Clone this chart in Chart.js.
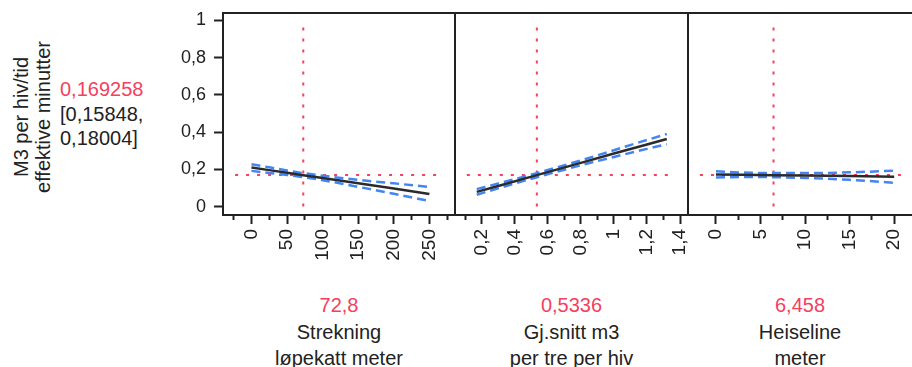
<!DOCTYPE html>
<html>
<head>
<meta charset="utf-8">
<script src="https://cdn.jsdelivr.net/npm/chart.js@4.4.1/dist/chart.umd.min.js"></script>
<style>
html, body { margin: 0; padding: 0; width: 912px; height: 367px; overflow: hidden; background: #fff; }
body { position: relative; font-family: "Liberation Sans", Arial, sans-serif; color: #222; }
canvas { position: absolute; top: 0; }
.t { position: absolute; font-size: 20px; white-space: nowrap; }
.red { color: #f5405e; }
</style>
</head>
<body>
<canvas id="p1" width="305" height="290" style="left:150px"></canvas>
<canvas id="p2" width="233" height="290" style="left:455px"></canvas>
<canvas id="p3" width="224" height="290" style="left:688px"></canvas>

<div class="t" id="ytitle" style="left:32px;top:117px;line-height:22px;text-align:center;transform:translate(-50%,-50%) rotate(-90deg)"></div>
<div class="t" id="yvalue" style="left:60px;top:77px;line-height:24.5px"></div>
<div class="t" id="xl0" style="top:292px;line-height:26.5px;text-align:center;transform:translateX(-50%)"></div>
<div class="t" id="xl1" style="top:292px;line-height:26.5px;text-align:center;transform:translateX(-50%)"></div>
<div class="t" id="xl2" style="top:292px;line-height:26.5px;text-align:center;transform:translateX(-50%)"></div>

<script>
// response
const respName = ['M3 per hiv/tid', 'effektive minutter'];
const respValue = '0,169258';
const respCI = ['[0,15848,', '0,18004]'];
const currentY = 0.169258;
const yMajor = [0, 0.2, 0.4, 0.6, 0.8, 1];

// factors
const factorNames = [['Strekning', 'løpekatt meter'], ['Gj.snitt m3', 'per tre per hiv'], ['Heiseline', 'meter']];
const currentX = [72.8, 0.5336, 6.458];
const currentXLabels = ['72,8', '0,5336', '6,458'];

// Strekning løpekatt meter
const strekX = [0, 25, 50, 72.8, 100, 150, 200, 250];
const strekFit = [0.210, 0.196, 0.182, 0.169, 0.154, 0.125, 0.097, 0.068];
const strekUpper = [0.228, 0.211, 0.194, 0.180, 0.166, 0.144, 0.125, 0.106];
const strekLower = [0.192, 0.181, 0.170, 0.158, 0.142, 0.106, 0.069, 0.030];
const strekMajor = [0, 50, 100, 150, 200, 250];

// Gj.snitt m3 per tre per hiv
const snittX = [0.17, 0.3, 0.5336, 0.8, 1.0, 1.2, 1.32];
const snittFit = [0.079, 0.111, 0.169, 0.235, 0.285, 0.334, 0.363];
const snittUpper = [0.094, 0.124, 0.180, 0.248, 0.303, 0.358, 0.390];
const snittLower = [0.064, 0.098, 0.158, 0.222, 0.267, 0.310, 0.335];
const snittMajor = [0.2, 0.4, 0.6, 0.8, 1, 1.2, 1.4];

// Heiseline meter
const heisX = [0, 3, 6.458, 10, 15, 20];
const heisFit = [0.173, 0.171, 0.169, 0.167, 0.164, 0.160];
const heisUpper = [0.190, 0.183, 0.180, 0.180, 0.184, 0.193];
const heisLower = [0.156, 0.159, 0.158, 0.154, 0.144, 0.128];
const heisMajor = [0, 5, 10, 15, 20];

// extent of the red dotted reference lines
const refSpanX = [[-23, 264], [0.11, 1.355], [-1.8, 21.2]];
const refTopY = 0.975;

const panels = [
  { id: 'p1', x: strekX, fit: strekFit, up: strekUpper, lo: strekLower, major: strekMajor,
    min: -40, max: 286, step: 25, firstTick: -25, yAxis: true, right: true },
  { id: 'p2', x: snittX, fit: snittFit, up: snittUpper, lo: snittLower, major: snittMajor,
    min: 0.0384, max: 1.4484, step: 0.1, firstTick: 0.1, yAxis: false, right: true },
  { id: 'p3', x: heisX, fit: heisFit, up: heisUpper, lo: heisLower, major: heisMajor,
    min: -3.14, max: 22.0, step: 2.5, firstTick: 0, yAxis: false, right: false }
];

const FONT = '"Liberation Sans", Arial, sans-serif';
const INK = '#222';
const RED = '#f5405e';
const BLUE = '#4485f2';

function fmt(v) { return String(v).replace('.', ','); }
function findMajor(list, v) { return list.find(m => Math.abs(m - v) < 1e-7); }
function pts(xs, ys) { return xs.map((x, i) => ({ x: x, y: ys[i] })); }

const framePlugin = {
  id: 'frame',
  afterDatasetsDraw(chart, args, opts) {
    const { ctx, chartArea: a } = chart;
    ctx.save();
    ctx.strokeStyle = INK;
    ctx.lineWidth = 2;
    ctx.beginPath();
    if (opts.right) {
      ctx.rect(a.left, a.top, a.right - a.left, a.bottom - a.top);
    } else {
      ctx.moveTo(a.right + 2, a.top);
      ctx.lineTo(a.left, a.top);
      ctx.lineTo(a.left, a.bottom);
      ctx.lineTo(a.right + 2, a.bottom);
    }
    ctx.stroke();
    ctx.restore();
  }
};

panels.forEach((p, k) => {
  const span = refSpanX[k];
  new Chart(document.getElementById(p.id), {
    type: 'line',
    data: {
      datasets: [
        { data: pts(p.x, p.fit), borderColor: '#2b2b2b', borderWidth: 2.5 },
        { data: pts(p.x, p.up), borderColor: BLUE, borderWidth: 2.5, borderDash: [9, 5], cubicInterpolationMode: 'monotone' },
        { data: pts(p.x, p.lo), borderColor: BLUE, borderWidth: 2.5, borderDash: [9, 5], cubicInterpolationMode: 'monotone' },
        { data: [{ x: span[0], y: currentY }, { x: span[1], y: currentY }], borderColor: RED, borderWidth: 2, borderDash: [3, 8] },
        { data: [{ x: currentX[k], y: 0 }, { x: currentX[k], y: refTopY }], borderColor: RED, borderWidth: 2, borderDash: [3, 8] }
      ]
    },
    options: {
      responsive: false,
      animation: false,
      devicePixelRatio: 1,
      layout: { padding: { top: 13, bottom: 0, left: 0, right: 0 } },
      elements: { point: { radius: 0 }, line: { tension: 0 } },
      plugins: { legend: { display: false }, tooltip: { enabled: false }, frame: { right: p.right } },
      scales: {
        x: {
          type: 'linear',
          min: p.min,
          max: p.max,
          afterFit: s => { s.height = 75; s.paddingLeft = 0; s.paddingRight = 0; },
          afterBuildTicks: s => { s.ticks = s.ticks.filter(t => t.value >= p.firstTick - 1e-7); },
          border: { display: false },
          grid: {
            drawOnChartArea: false,
            tickLength: 9,
            tickWidth: 2,
            tickColor: INK,
            tickBorderDash: c => (c.tick && findMajor(p.major, c.tick.value) !== undefined) ? [] : [5, 20]
          },
          ticks: {
            stepSize: p.step,
            includeBounds: false,
            autoSkip: false,
            minRotation: 90,
            maxRotation: 90,
            padding: 5,
            color: INK,
            font: { family: FONT, size: 19 },
            callback: v => { const m = findMajor(p.major, v); return m === undefined ? '' : fmt(m); }
          }
        },
        y: {
          type: 'linear',
          display: p.yAxis,
          min: -0.045,
          max: 1.04,
          afterFit: s => { if (p.yAxis) s.width = 73; s.paddingTop = 0; s.paddingBottom = 0; },
          border: { display: false },
          grid: {
            drawOnChartArea: false,
            tickLength: 9,
            tickWidth: 2,
            tickColor: INK,
            tickBorderDash: c => (c.tick && findMajor(yMajor, c.tick.value) !== undefined) ? [] : [0, 4, 5, 20]
          },
          ticks: {
            stepSize: 0.1,
            includeBounds: false,
            padding: 8,
            color: INK,
            font: { family: FONT, size: 18 },
            callback: v => { const m = findMajor(yMajor, v); return m === undefined ? '' : fmt(m); }
          }
        }
      }
    },
    plugins: [framePlugin]
  });
});

// texts around the panels
document.getElementById('ytitle').innerHTML = respName.join('<br>');
document.getElementById('yvalue').innerHTML =
  '<span class="red">' + respValue + '</span><br>' + respCI.join('<br>');
const centers = [339, 571.5, 800];
factorNames.forEach((names, k) => {
  const el = document.getElementById('xl' + k);
  el.style.left = centers[k] + 'px';
  el.innerHTML = '<span class="red">' + currentXLabels[k] + '</span><br>' + names.join('<br>');
});
</script>
</body>
</html>
